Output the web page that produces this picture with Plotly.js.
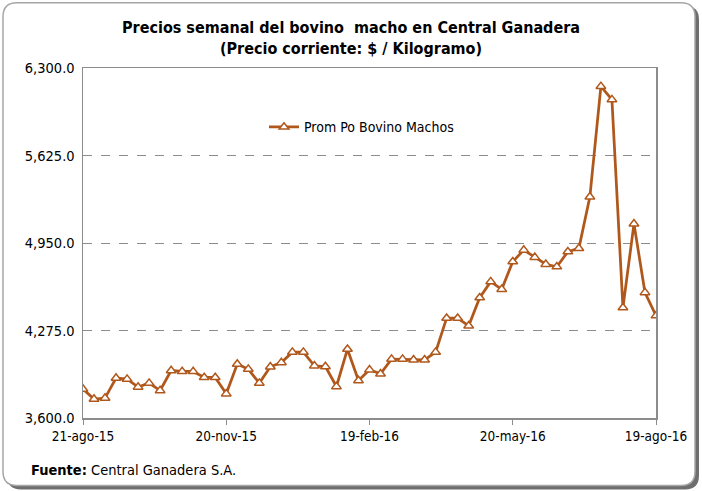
<!DOCTYPE html>
<html>
<head>
<meta charset="utf-8">
<script src="https://cdn.plot.ly/plotly-3.0.1.min.js"></script>
<style>html,body{margin:0;padding:0;background:#fff;}#chart{width:702px;height:491px;}</style>
</head>
<body>
<div id="chart"></div>
<script>
const weeks = [
"2015-08-21","2015-08-28","2015-09-04","2015-09-11","2015-09-18","2015-09-25","2015-10-02","2015-10-09","2015-10-16","2015-10-23",
"2015-10-30","2015-11-06","2015-11-13","2015-11-20","2015-11-27","2015-12-04","2015-12-11","2015-12-18","2015-12-25","2016-01-01",
"2016-01-08","2016-01-15","2016-01-22","2016-01-29","2016-02-05","2016-02-12","2016-02-19","2016-02-26","2016-03-04","2016-03-11",
"2016-03-18","2016-03-25","2016-04-01","2016-04-08","2016-04-15","2016-04-22","2016-04-29","2016-05-06","2016-05-13","2016-05-20",
"2016-05-27","2016-06-03","2016-06-10","2016-06-17","2016-06-24","2016-07-01","2016-07-08","2016-07-15","2016-07-22","2016-07-29",
"2016-08-05","2016-08-12","2016-08-19"];
const prices = [
3823,3746,3754,3908,3900,3839,3869,3812,3966,3959,
3959,3913,3913,3787,4016,3977,3869,3995,4028,4108,
4108,4003,3997,3843,4131,3889,3972,3941,4054,4054,
4049,4049,4108,4370,4370,4311,4528,4652,4593,4806,
4896,4840,4786,4767,4883,4909,5306,6158,6056,4451,
5098,4568,4389];
const seriesName = "Prom Po Bovino Machos";
const tickDates = ["2015-08-21","2015-11-20","2016-02-19","2016-05-20","2016-08-19"];
const tickLabels = ["21-ago-15","20-nov-15","19-feb-16","20-may-16","19-ago-16"];
const yTicks = [3600,4275,4950,5625,6300];

const F = '"Liberation Sans Narrow","Arial Narrow","DejaVu Sans Condensed",Arial,sans-serif';
const brown = '#b0581c';

const L=83, R=656, T=67.5, B=418.3;
function px(x){return (x-L)/(R-L);}
function py(y){return (B-y)/(B-T);}
function rr(x0,y0,x1,y1,r){
  return 'M'+px(x0+r)+','+py(y0)+' L'+px(x1-r)+','+py(y0)+' Q'+px(x1)+','+py(y0)+' '+px(x1)+','+py(y0+r)+
  ' L'+px(x1)+','+py(y1-r)+' Q'+px(x1)+','+py(y1)+' '+px(x1-r)+','+py(y1)+
  ' L'+px(x0+r)+','+py(y1)+' Q'+px(x0)+','+py(y1)+' '+px(x0)+','+py(y1-r)+
  ' L'+px(x0)+','+py(y0+r)+' Q'+px(x0)+','+py(y0)+' '+px(x0+r)+','+py(y0)+' Z';
}

const trace = {
  x: weeks, y: prices, type:'scatter', mode:'lines+markers', name: seriesName,
  line:{color:brown, width:2.75},
  marker:{symbol:'triangle-up', size:8.5, color:'#ffffff', line:{color:brown, width:1.5}}
};

const layout = {
  width:702, height:491,
  margin:{l:L, r:702-R, t:T, b:491-B},
  paper_bgcolor:'#ffffff', plot_bgcolor:'#ffffff',
  font:{family:F, color:'#000', size:12},
  title:{text:'<b>Precios semanal del bovino  macho en Central Ganadera<br>(Precio corriente: $ / Kilogramo)</b>',
    x:0.5, xref:'container', y:1-33/491, yref:'container', yanchor:'middle',
    font:{family:F, size:16, color:'#000'}},
  showlegend:true,
  legend:{x:px(264), y:py(127), xanchor:'left', yanchor:'middle', bgcolor:'rgba(0,0,0,0)',
    font:{family:F, size:14, color:'#000'}},
  xaxis:{type:'date', range:[weeks[0], weeks[weeks.length-1]], tickvals:tickDates, ticktext:tickLabels,
    showgrid:false, zeroline:false, showline:true, linecolor:'#8c8c8c', linewidth:1.5, mirror:true,
    ticks:'outside', ticklen:5, tickcolor:'#8c8c8c', tickfont:{family:F, size:13.5, color:'#000'}},
  yaxis:{range:[3600,6300], tickvals:yTicks, tickformat:',.1f', showgrid:true, gridcolor:'#8c8c8c',
    griddash:'dash', gridwidth:1, zeroline:false, showline:true, linecolor:'#8c8c8c', linewidth:1.5, mirror:true,
    ticks:'', ticklabelstandoff:4, tickfont:{family:F, size:14.5, color:'#000'}},
  shapes:[
    {type:'path', xref:'paper', yref:'paper', path:rr(7,5,699,490,14), fillcolor:'#6e6e6e', line:{width:0}, layer:'below'},
    {type:'path', xref:'paper', yref:'paper', path:rr(3,2,695,486,14), fillcolor:'#ffffff', line:{color:'#a6a6a6', width:1.5}, layer:'below'}
  ],
  annotations:[
    {xref:'paper', yref:'paper', x:px(29), y:py(470), xanchor:'left', yanchor:'middle', showarrow:false,
     text:'<b>Fuente:</b> Central Ganadera S.A.', font:{family:F, size:14.5, color:'#000'}}
  ]
};
Plotly.newPlot('chart',[trace],layout,{displayModeBar:false, staticPlot:true});
</script>
</body>
</html>
